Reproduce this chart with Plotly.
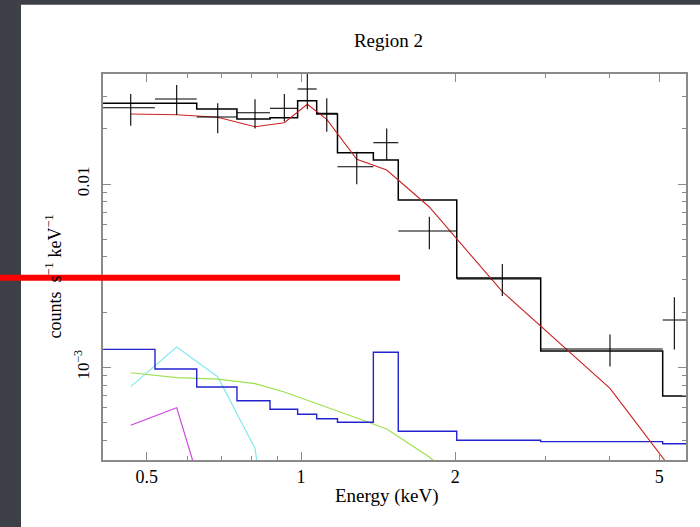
import math
import plotly.graph_objects as go

# ---------------- data ----------------
bin_lo = [0.411, 0.519, 0.626, 0.750, 0.870, 0.985, 1.073, 1.178, 1.384, 1.548, 2.013, 2.935, 5.077]
bin_hi = [0.519, 0.626, 0.750, 0.870, 0.985, 1.073, 1.178, 1.384, 1.548, 2.013, 2.935, 5.077, 6.0]
energy = [0.4654, 0.5721, 0.6879, 0.8134, 0.9278, 1.0287, 1.1227, 1.2847, 1.4696, 1.7796, 2.4703, 4.0068, 5.35]

rate = [0.02608, 0.02909, 0.0232, 0.02449, 0.02588, 0.03298, 0.0243,
        0.01243, 0.0168, 0.00554, 0.00303, 0.001258, 0.00181]
rate_low = [0.0208, 0.0238, 0.0189, 0.0201, 0.0219, 0.0256, 0.0193,
            0.00996, 0.01352, 0.00440, 0.00245, 0.00101, 0.00125]
rate_high = [0.0310, 0.0347, 0.0276, 0.0290, 0.0310, 0.041, 0.0294,
             0.0150, 0.0201, 0.00663, 0.00366, 0.00151, 0.00241]

model_hist = [0.02756, 0.02756, 0.02566, 0.02262, 0.02299, 0.02848, 0.02409,
              0.01482, 0.01352, 0.008179, 0.003071, 0.001227, 0.000697]
model_curve = [0.02409, 0.02388, 0.02311, 0.02054, 0.0216, 0.02721, 0.02254,
               0.01364, 0.01192, 0.00749, 0.002585, 0.000768, 0.000265]

comp_blue = [0.001253, 0.000979, 0.000781, 0.000657, 0.00059, 0.000554, 0.000524,
             0.000501, 0.001207, 0.000448, 0.0004, 0.000393, 0.000383]
comp_green = [0.000934, 0.000878, 0.000863, 0.000814, 0.000733, 0.000659, 0.000603,
              0.000529, 0.000461, 0.000324, 0.000147, 0.00002, 0.000005]
comp_cyan = [0.000784, 0.00129, 0.000889, 0.000361, 0.00003]
comp_magenta = [0.000483, 0.000602, 0.00011]

x_major = [0.5, 1, 2, 5]
x_major_text = ["0.5", "1", "2", "5"]
x_minor = [0.6, 0.7, 0.8, 0.9, 3, 4]
y_major = [0.01, 0.001]
y_major_text = ["0.01", "10<sup>−3</sup>"]
y_minor = [0.0004, 0.0005, 0.0006, 0.0007, 0.0008, 0.0009,
           0.002, 0.003, 0.004, 0.005, 0.006, 0.007, 0.008, 0.009,
           0.02, 0.03]

title_text = "Region 2"
x_title = "Energy (keV)"
y_title = "counts\u2002s<sup>−1</sup>\u00a0keV<sup>−1</sup>"

# ---------------- layout geometry ----------------
W, H = 700, 527
ML, MR, MT, MB = 103, 14, 74, 67
PW, PH = W - ML - MR, H - MT - MB


def pxx(p):
    return (p - ML) / PW


def pxy(p):
    return (H - MB - p) / PH


FONT = "Liberation Serif"
FRAME = "#8a8a8a"

fig = go.Figure()

step_x = bin_lo + [bin_hi[-1]]

# components
fig.add_trace(go.Scatter(x=energy[:len(comp_magenta)], y=comp_magenta, mode="lines",
                         line=dict(color="#cc44dd", width=1.2), showlegend=False))
fig.add_trace(go.Scatter(x=energy[:len(comp_cyan)], y=comp_cyan, mode="lines",
                         line=dict(color="#86e8f0", width=1.2), showlegend=False))
fig.add_trace(go.Scatter(x=energy, y=comp_green, mode="lines",
                         line=dict(color="#9ce24e", width=1.2), showlegend=False))
fig.add_trace(go.Scatter(x=step_x, y=comp_blue + [comp_blue[-1]], mode="lines",
                         line=dict(color="#2323cf", width=1.4, shape="hv"), showlegend=False))

# model histogram
fig.add_trace(go.Scatter(x=step_x, y=model_hist + [model_hist[-1]], mode="lines",
                         line=dict(color="black", width=1.5, shape="hv"), showlegend=False))
# model curve
fig.add_trace(go.Scatter(x=energy, y=model_curve, mode="lines",
                         line=dict(color="#cc2222", width=1.1), showlegend=False))

# data crosses
fig.add_trace(go.Scatter(
    x=energy, y=rate, mode="markers",
    marker=dict(size=2, color="rgba(0,0,0,0)"),
    error_x=dict(type="data", symmetric=False,
                 array=[h - e for h, e in zip(bin_hi, energy)],
                 arrayminus=[e - l for e, l in zip(energy, bin_lo)],
                 width=0, thickness=1.1, color="black"),
    error_y=dict(type="data", symmetric=False,
                 array=[h - r for h, r in zip(rate_high, rate)],
                 arrayminus=[r - l for r, l in zip(rate, rate_low)],
                 width=0, thickness=1.1, color="black"),
    showlegend=False))

xr = [(ML - 301) / 512.6, (W - MR - 301) / 512.6]
yr = [-3 - (H - MB - 367.3) / 183.3, -2 + (184 - MT) / 183.3]

fig.update_layout(
    width=W, height=H,
    margin=dict(l=ML, r=MR, t=MT, b=MB),
    paper_bgcolor="#3d4046",
    plot_bgcolor="white",
    font=dict(family=FONT, color="black"),
    title=dict(text=title_text, x=pxx(388.5), xref="paper", xanchor="center",
               y=1 - 40 / H, yref="container", yanchor="middle",
               font=dict(family=FONT, size=19, color="black")),
    xaxis=dict(type="log", range=xr, showgrid=False, zeroline=False,
               showline=True, linecolor=FRAME, linewidth=1.5, mirror="ticks",
               tickmode="array", tickvals=x_major, ticktext=x_major_text,
               ticks="inside", ticklen=8, tickwidth=1, tickcolor=FRAME,
               minor=dict(tickmode="array", tickvals=x_minor, ticks="inside",
                          ticklen=4, tickwidth=1, tickcolor=FRAME, showgrid=False),
               tickfont=dict(family=FONT, size=18, color="black"),
               ticklabelstandoff=0),
    yaxis=dict(type="log", range=yr, showgrid=False, zeroline=False,
               showline=True, linecolor=FRAME, linewidth=1.5, mirror="ticks",
               tickmode="array", tickvals=y_major, ticktext=y_major_text,
               ticks="inside", ticklen=8, tickwidth=1, tickcolor=FRAME,
               minor=dict(tickmode="array", tickvals=y_minor, ticks="inside",
                          ticklen=4, tickwidth=1, tickcolor=FRAME, showgrid=False),
               tickangle=-90,
               tickfont=dict(family=FONT, size=17, color="black"),
               ticklabelstandoff=5),
    annotations=[
        dict(text=x_title, xref="paper", yref="paper", x=pxx(386.5), y=pxy(496.5),
             xanchor="center", yanchor="middle", showarrow=False,
             font=dict(family=FONT, size=19, color="black")),
        dict(text=y_title, xref="paper", yref="paper", x=pxx(54), y=pxy(276.5),
             xanchor="center", yanchor="middle", showarrow=False, textangle=-90,
             font=dict(family=FONT, size=18, color="black")),
    ],
    shapes=[
        dict(type="rect", xref="paper", yref="paper", layer="below",
             x0=pxx(21), x1=pxx(W + 20), y0=pxy(H + 20), y1=pxy(4.7),
             fillcolor="white", line=dict(width=0)),
        dict(type="line", xref="paper", yref="paper", layer="above",
             x0=pxx(0), x1=pxx(400), y0=pxy(277.8), y1=pxy(277.8),
             line=dict(color="#ff0000", width=6)),
    ],
)

fig.write_html("out.html", config={"displayModeBar": False},
               post_script="document.body.style.margin='0';document.body.style.overflow='hidden';")
